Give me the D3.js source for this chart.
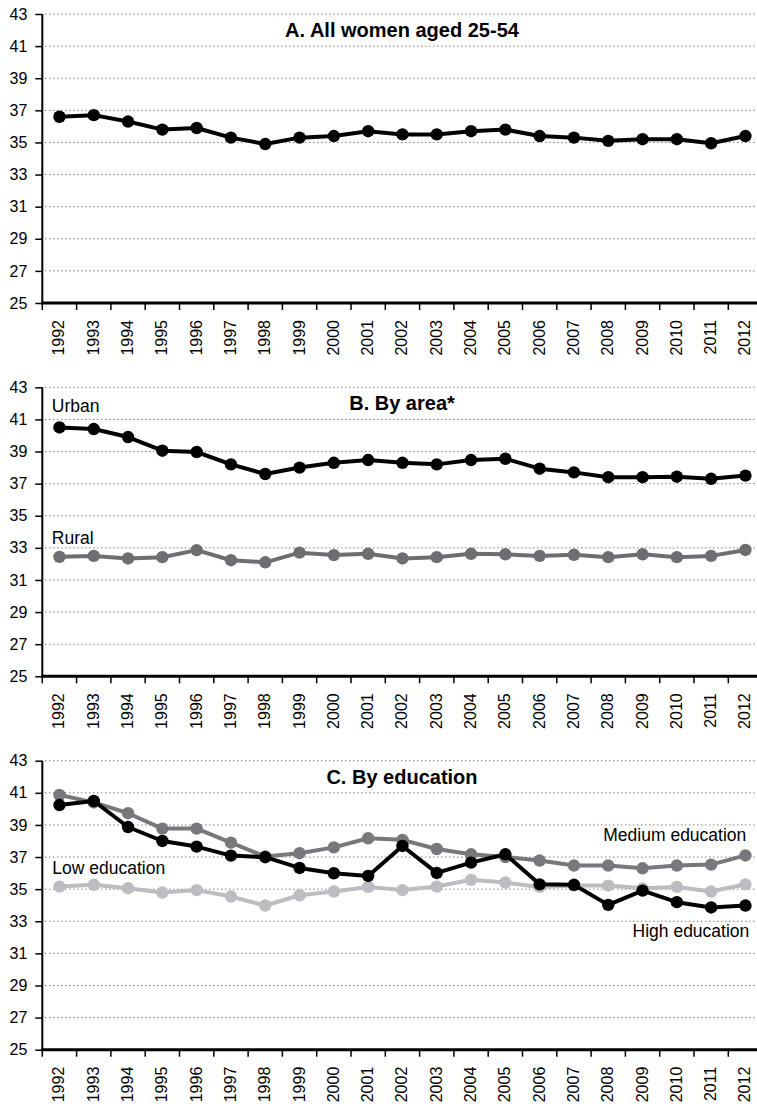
<!DOCTYPE html>
<html>
<head>
<meta charset="utf-8">
<script src="https://cdn.jsdelivr.net/npm/d3@7/dist/d3.min.js"></script>
<style>
  html, body { margin: 0; padding: 0; background: #fff; }
  svg { display: block; font-family: "Liberation Sans", Arial, sans-serif; }
</style>
</head>
<body>
<svg id="chart" width="757" height="1106"></svg>
<script>
// ---- Data ----
const years = ["1992","1993","1994","1995","1996","1997","1998","1999","2000","2001","2002",
               "2003","2004","2005","2006","2007","2008","2009","2010","2011","2012"];
const yTicks = [25, 27, 29, 31, 33, 35, 37, 39, 41, 43];

const allWomen = [36.6, 36.7, 36.3, 35.8, 35.9, 35.3, 34.9, 35.3, 35.4, 35.7, 35.5,
                  35.5, 35.7, 35.8, 35.4, 35.3, 35.1, 35.2, 35.2, 34.95, 35.4];

const urban = [40.5, 40.4, 39.9, 39.05, 38.97, 38.2, 37.6, 38.0, 38.3, 38.47, 38.3,
               38.2, 38.47, 38.55, 37.93, 37.7, 37.4, 37.4, 37.43, 37.3, 37.5];
const rural = [32.44, 32.5, 32.34, 32.42, 32.86, 32.23, 32.1, 32.7, 32.55, 32.63, 32.34,
               32.42, 32.63, 32.6, 32.5, 32.57, 32.42, 32.6, 32.42, 32.5, 32.87];

const lowEdu = [35.16, 35.27, 35.06, 34.79, 34.94, 34.54, 33.98, 34.62, 34.85, 35.14, 34.94,
                35.16, 35.58, 35.41, 35.14, 35.22, 35.22, 35.05, 35.14, 34.85, 35.3];
const mediumEdu = [40.87, 40.4, 39.73, 38.77, 38.77, 37.9, 37.03, 37.24, 37.6, 38.17, 38.07,
                   37.5, 37.17, 37.0, 36.78, 36.47, 36.47, 36.3, 36.47, 36.53, 37.1];
const highEdu = [40.24, 40.49, 38.87, 38.0, 37.65, 37.09, 36.99, 36.32, 35.99, 35.82, 37.69,
                 36.01, 36.65, 37.17, 35.3, 35.27, 34.02, 34.91, 34.19, 33.86, 33.98];

const panelTitles = ["A. All women aged 25-54", "B. By area*", "C. By education"];

// ---- Layout ----
const svg = d3.select("#chart");
const xLeft = 42.3, xRight = 762.6;
const panelTops = [14, 387.3, 760.7];
const panelH = 289;

const x = d3.scaleBand().domain(years).range([xLeft, xRight]).paddingInner(0).paddingOuter(0);

const panels = [
  { series: [{ values: allWomen, color: "#000000" }],
    labels: [] },
  { series: [{ values: rural, color: "#6d6e71" }, { values: urban, color: "#000000" }],
    labels: [
      { text: "Urban", year: "1992", dx: 9.5, v: 41.45, anchor: "start" },
      { text: "Rural", year: "1992", dx: 9.5, v: 33.27, anchor: "start" }
    ] },
  { series: [{ values: lowEdu, color: "#bcbdc0" }, { values: mediumEdu, color: "#77787b" }, { values: highEdu, color: "#000000" }],
    labels: [
      { text: "Low education", year: "1992", dx: 10, v: 35.95, anchor: "start" },
      { text: "Medium education", year: "2012", dx: 18, v: 37.97, anchor: "end" },
      { text: "High education", year: "2012", dx: 21, v: 32.0, anchor: "end" }
    ] }
];

panels.forEach((p, i) => {
  const top = panelTops[i];
  const y = d3.scaleLinear().domain([25, 43]).range([top + panelH, top]);
  const g = svg.append("g");

  // gridlines (dotted)
  g.append("g").selectAll("line").data(yTicks.filter(t => t > 25)).join("line")
    .attr("x1", xLeft + 3).attr("x2", 757)
    .attr("y1", d => y(d)).attr("y2", d => y(d))
    .attr("stroke", "#444").attr("stroke-width", 1)
    .attr("stroke-dasharray", "1,3");

  // y axis
  const yAxis = g.append("g").attr("transform", `translate(${xLeft},0)`)
    .call(d3.axisLeft(y).tickValues(yTicks).tickSize(7).tickPadding(8).tickFormat(d3.format("d")));
  yAxis.select(".domain").attr("stroke", "#000").attr("stroke-width", 2).attr("d", `M0,${top + panelH}V${top}`);
  yAxis.selectAll(".tick line").attr("stroke", "#000").attr("stroke-width", 1.5);
  yAxis.selectAll(".tick text").attr("font-size", 16).attr("fill", "#000")
    .attr("font-family", "'Liberation Sans', Arial, sans-serif");

  // x axis
  const bottom = top + panelH;
  const xAxisG = g.append("g").attr("transform", `translate(0,${bottom})`);
  xAxisG.append("line").attr("x1", xLeft - 1).attr("x2", 757).attr("y1", 0).attr("y2", 0)
    .attr("stroke", "#000").attr("stroke-width", 3);
  xAxisG.selectAll("line.tk").data(years).join("line").attr("class", "tk")
    .attr("x1", d => x(d)).attr("x2", d => x(d)).attr("y1", 0).attr("y2", 7)
    .attr("stroke", "#000").attr("stroke-width", 1.5);
  xAxisG.selectAll("text").data(years).join("text")
    .attr("transform", d => `translate(${x(d) + x.bandwidth() / 2 + 5},17) rotate(-90)`)
    .attr("text-anchor", "end")
    .attr("font-size", 16).attr("fill", "#000")
    .text(d => d);

  // title
  g.append("text").attr("x", 402).attr("y", top + 23)
    .attr("text-anchor", "middle").attr("font-weight", "bold")
    .attr("font-size", 20).attr("fill", "#000")
    .text(panelTitles[i]);

  // series
  const line = d3.line().x((d, j) => x(years[j]) + x.bandwidth() / 2).y(d => y(d));
  p.series.forEach(s => {
    const sg = g.append("g");
    sg.append("path").datum(s.values).attr("d", line)
      .attr("fill", "none").attr("stroke", s.color).attr("stroke-width", 4)
      .attr("stroke-linejoin", "round");
    sg.selectAll("circle").data(s.values).join("circle")
      .attr("cx", (d, j) => x(years[j]) + x.bandwidth() / 2)
      .attr("cy", d => y(d)).attr("r", 6.2).attr("fill", s.color);
  });

  // labels
  p.labels.forEach(l => {
    g.append("text").attr("x", x(l.year) + l.dx).attr("y", y(l.v))
      .attr("text-anchor", l.anchor).attr("font-size", 17.5).attr("fill", "#000")
      .text(l.text);
  });
});
</script>
</body>
</html>
